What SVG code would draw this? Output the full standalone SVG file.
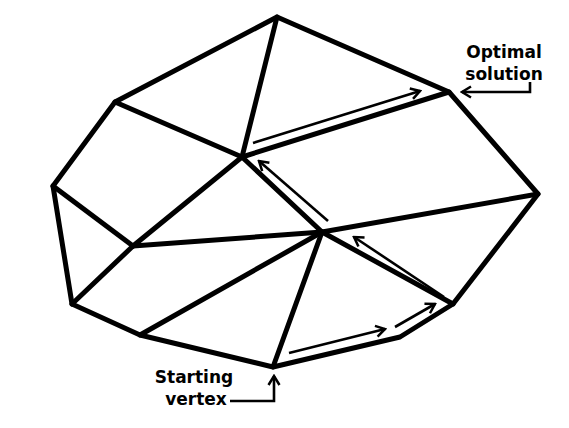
<svg xmlns="http://www.w3.org/2000/svg" width="569" height="428" viewBox="0 0 569 428">
<defs>
<style>
.e{stroke:#000;stroke-width:5;stroke-linecap:round;stroke-linejoin:round;fill:none}
.a{stroke:#000;stroke-width:2.6;fill:none;marker-end:url(#h)}
.c{stroke:#000;stroke-width:2.6;fill:none;marker-end:url(#h)}
.t{font-family:"DejaVu Sans",Verdana,sans-serif;font-weight:bold;font-size:17px;fill:#000;text-anchor:middle}
</style>
<marker id="h" viewBox="0 0 14 14" refX="12" refY="7" markerWidth="14" markerHeight="14" markerUnits="userSpaceOnUse" orient="auto">
<path d="M3,1.5 L12,7 L3,12.5" fill="none" stroke="#000" stroke-width="2.5"/>
</marker>
</defs>
<rect width="569" height="428" fill="#fff"/>
<g id="polytope">
<polygon class="e" points="277,17 449,92 538,194 453,304 400,337 273,367 140,335 72,304 53,186 115,102"/>
</g>
<g id="connectors">
<line class="e" x1="115" y1="102" x2="242" y2="157"/>
<line class="e" x1="277" y1="17" x2="242" y2="157"/>
<line class="e" x1="242" y1="157" x2="449" y2="92"/>
<line class="e" x1="242" y1="157" x2="322" y2="232"/>
<line class="e" x1="242" y1="157" x2="133" y2="246"/>
<line class="e" x1="53" y1="186" x2="133" y2="246"/>
<line class="e" x1="72" y1="304" x2="133" y2="246"/>
<line class="e" x1="133" y1="246" x2="322" y2="232"/>
<line class="e" x1="322" y1="232" x2="538" y2="194"/>
<line class="e" x1="322" y1="232" x2="453" y2="304"/>
<line class="e" x1="322" y1="232" x2="273" y2="367"/>
<line class="e" x1="322" y1="232" x2="140" y2="335"/>
</g>
<g id="path-arrows">
<line class="a" x1="289" y1="353" x2="385" y2="329"/>
<line class="a" x1="395" y1="327" x2="435" y2="304"/>
<line class="a" x1="444" y1="297" x2="354" y2="237"/>
<line class="a" x1="328" y1="221" x2="259" y2="161"/>
<line class="a" x1="253" y1="143" x2="420" y2="91"/>
</g>
<g id="label-optimal">
<text class="t" x="504" y="58">Optimal</text>
<text class="t" x="504" y="80">solution</text>
<polyline class="c" points="530,82 530,92 462,92"/>
</g>
<g id="label-start">
<text class="t" x="194" y="383">Starting</text>
<text class="t" x="196" y="405">vertex</text>
<polyline class="c" points="230,401 274,401 274,376"/>
</g>
</svg>
